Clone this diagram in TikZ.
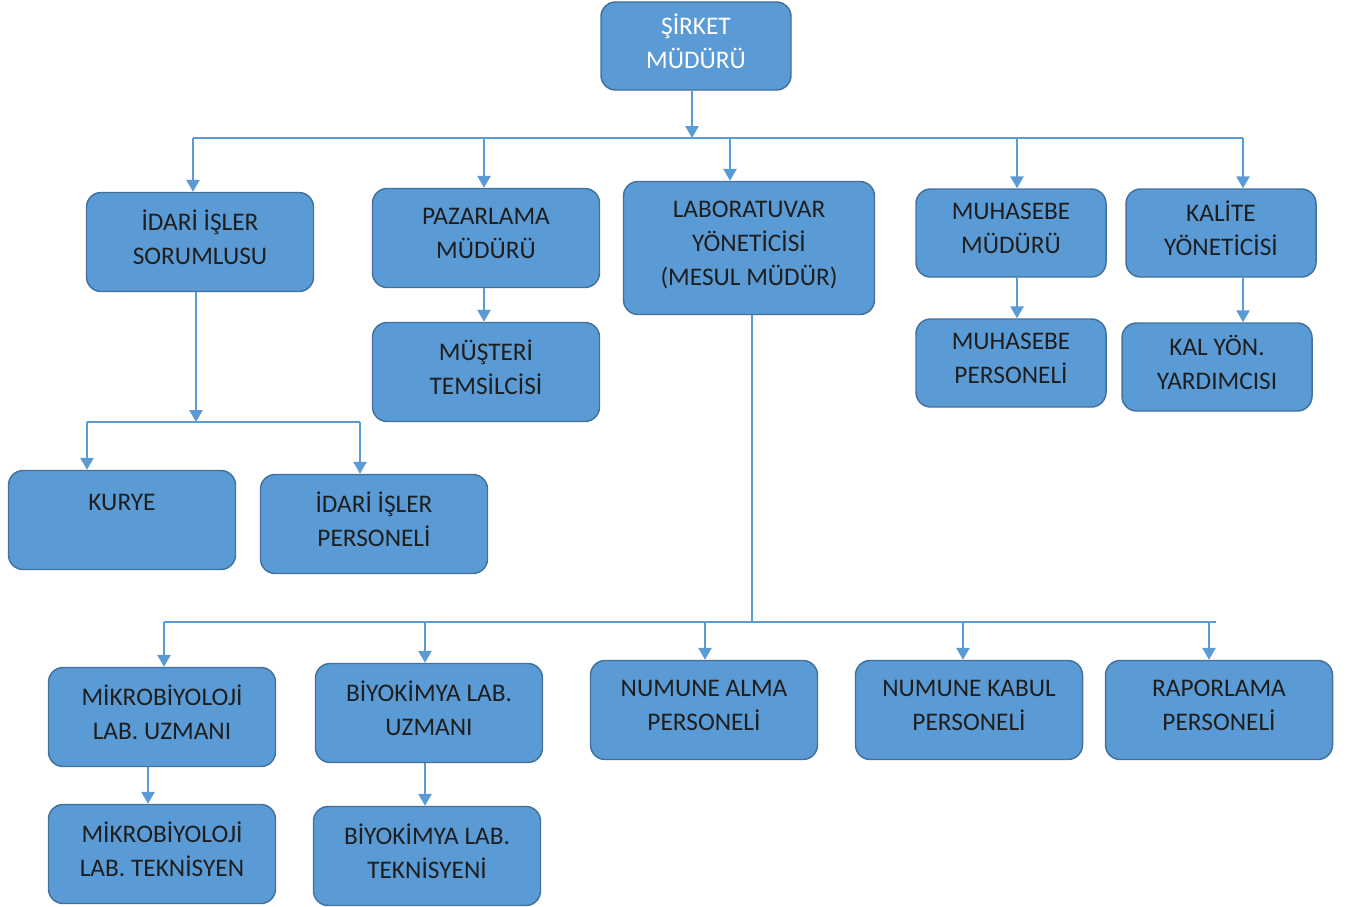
\documentclass[tikz,border=0pt]{standalone}
\usepackage{fontspec}
\setmainfont{Carlito}
\usetikzlibrary{arrows.meta}
\definecolor{boxfill}{HTML}{5B9BD5}
\definecolor{boxline}{HTML}{41719C}
\definecolor{conn}{HTML}{5B9BD5}
\definecolor{txt}{HTML}{1E1E1E}
\begin{document}
\begin{tikzpicture}[x=0.75pt,y=-0.75pt,
  box/.style={draw=boxline, line width=1.1pt, fill=boxfill, rounded corners=11pt,
    minimum width=170.25pt, minimum height=74.25pt, align=center, inner sep=2pt,
    text=txt, font=\fontsize{19}{25.5}\selectfont, text depth=7pt},
  smallbox/.style={box, minimum width=142.5pt, minimum height=66pt},
  labbox/.style={box, minimum width=188.25pt, minimum height=99.75pt},
  ln/.style={draw=conn, line width=1.4pt},
  arr/.style={ln, -{Triangle[width=10pt,length=9pt]}}]
\useasboundingbox (0,0) rectangle (1348,906);

% nodes
\node[smallbox, text=white] (ceo) at (696,46) {ŞİRKET\\MÜDÜRÜ};
\node[box] (idari) at (200,242) {İDARİ İŞLER\\SORUMLUSU};
\node[box] (pzr) at (486,238) {PAZARLAMA\\MÜDÜRÜ};
\node[labbox] (lab) at (749,248) {LABORATUVAR\\YÖNETİCİSİ\\(MESUL MÜDÜR)};
\node[smallbox] (muh) at (1011,233) {MUHASEBE\\MÜDÜRÜ};
\node[smallbox] (kal) at (1221,233) {KALİTE\\YÖNETİCİSİ};
\node[box] (mus) at (486,372) {MÜŞTERİ\\TEMSİLCİSİ};
\node[smallbox] (muhp) at (1011,363) {MUHASEBE\\PERSONELİ};
\node[smallbox] (kaly) at (1217,367) {KAL YÖN.\\YARDIMCISI};
\node[box] (kurye) at (122,520) {KURYE\\[-6pt]\strut};
\node[box] (idp) at (374,524) {İDARİ İŞLER\\PERSONELİ};
\node[box] (mik) at (162,717) {MİKROBİYOLOJİ\\LAB. UZMANI};
\node[box] (biy) at (429,713) {BİYOKİMYA LAB.\\UZMANI};
\node[box] (nal) at (704,710) {NUMUNE ALMA\\PERSONELİ};
\node[box] (nkb) at (969,710) {NUMUNE KABUL\\PERSONELİ};
\node[box] (rap) at (1219,710) {RAPORLAMA\\PERSONELİ};
\node[box] (mikt) at (162,854) {MİKROBİYOLOJİ\\LAB. TEKNİSYEN};
\node[box] (biyt) at (427,856) {BİYOKİMYA LAB.\\TEKNİSYENİ};

% top bus
\coordinate (bL) at (193,138);
\coordinate (bR) at (1243,138);
\coordinate (dceo) at (692,138);
\coordinate (dpzr) at (484,138);
\coordinate (dlab) at (730,138);
\coordinate (dmuh) at (1017,138);
\draw[arr] (dceo |- ceo.south) -- (dceo);
\draw[ln] (bL) -- (bR);
\draw[arr] (bL) -- (bL |- idari.north);
\draw[arr] (dpzr) -- (dpzr |- pzr.north);
\draw[arr] (dlab) -- (dlab |- lab.north);
\draw[arr] (dmuh) -- (dmuh |- muh.north);
\draw[arr] (bR) -- (bR |- kal.north);

% second level
\draw[arr] (dpzr |- pzr.south) -- (dpzr |- mus.north);
\draw[arr] (dmuh |- muh.south) -- (dmuh |- muhp.north);
\draw[arr] (bR |- kal.south) -- (bR |- kaly.north);

% idari branch
\coordinate (iL) at (87,422);
\coordinate (iR) at (360,422);
\coordinate (iM) at (196,422);
\draw[arr] (iM |- idari.south) -- (iM);
\draw[ln] (iL) -- (iR);
\draw[arr] (iL) -- (iL |- kurye.north);
\draw[arr] (iR) -- (iR |- idp.north);

% lab branch
\coordinate (lM) at (752,622);
\coordinate (lL) at (164,622);
\coordinate (lR) at (1216,622);
\coordinate (d2) at (425,622);
\coordinate (d3) at (705,622);
\coordinate (d4) at (963,622);
\coordinate (d5) at (1209,622);
\draw[ln] (lM |- lab.south) -- (lM);
\draw[ln] (lL) -- (lR);
\draw[arr] (lL) -- (lL |- mik.north);
\draw[arr] (d2) -- (d2 |- biy.north);
\draw[arr] (d3) -- (d3 |- nal.north);
\draw[arr] (d4) -- (d4 |- nkb.north);
\draw[arr] (d5) -- (d5 |- rap.north);

% third level lab
\coordinate (m1) at (148,0);
\draw[arr] (m1 |- mik.south) -- (m1 |- mikt.north);
\draw[arr] (d2 |- biy.south) -- (d2 |- biyt.north);
\end{tikzpicture}
\end{document}
